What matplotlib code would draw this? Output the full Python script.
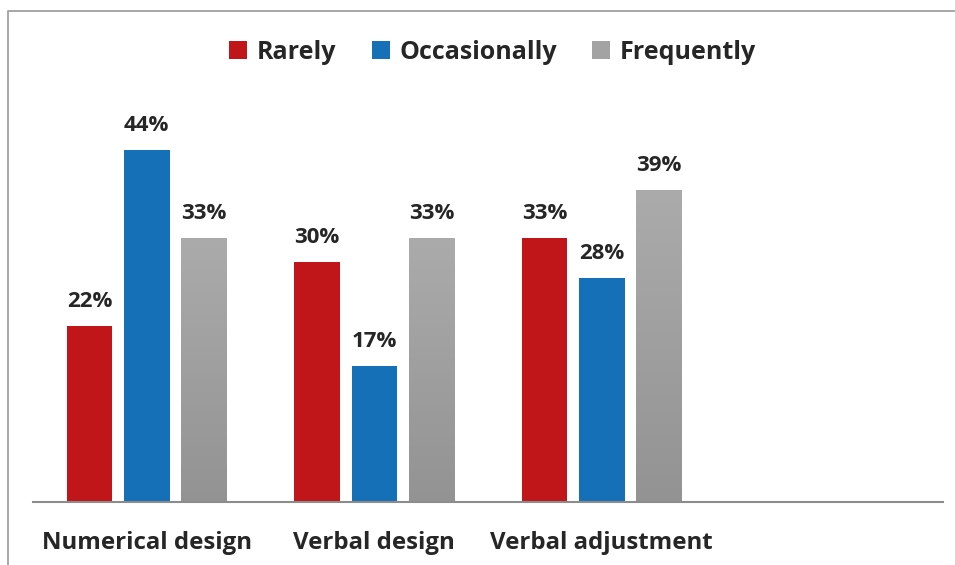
import matplotlib.pyplot as plt
import numpy as np
from matplotlib.lines import Line2D
from matplotlib.colors import LinearSegmentedColormap

plt.rcParams['font.family'] = ['Open Sans', 'DejaVu Sans']

categories = ["Numerical design", "Verbal design", "Verbal adjustment", ""]
series = ["Rarely", "Occasionally", "Frequently"]
rarely = [22, 30, 33]
occasionally = [44, 17, 28]
frequently = [33, 33, 39]

colors = ["#c0161a", "#1570b8", "#a3a3a3"]
text_color = "#262626"

fig = plt.figure(figsize=(9.55, 5.65), dpi=100)
ax = fig.add_axes([0.0346, 0.1115, 0.9529, 0.708])

x = np.arange(len(categories))
width = 0.2
gap = 0.052
offsets = [-(width + gap), 0, width + gap]

gray_cmap = LinearSegmentedColormap.from_list("g", ["#939393", "#ababab"])

for vals, off, col, name in zip([rarely, occasionally, frequently], offsets, colors, series):
    xs = x[:len(vals)] + off
    bars = ax.bar(xs, vals, width=width, color=col, label=name, zorder=2)
    if name == "Frequently":
        # gray bars get a soft vertical gradient
        grad = np.linspace(0, 1, 256).reshape(-1, 1)
        for b in bars:
            b.set_facecolor("none")
            im = ax.imshow(grad, cmap=gray_cmap, aspect="auto", origin="lower",
                           extent=[b.get_x(), b.get_x() + b.get_width(), 0, b.get_height()],
                           zorder=2)
            im.set_clip_path(b)
    for xi, v in zip(xs, vals):
        ax.text(xi, v + 1.8, f"{v}%", ha="center", va="bottom", fontsize=16,
                fontweight="bold", color=text_color)

ax.set_xlim(-0.5, len(categories) - 0.5)
ax.set_ylim(0, 50)
ax.set_xticks(x)
ax.set_xticklabels(categories, fontsize=17.3, fontweight="bold", color=text_color)
ax.tick_params(axis="x", length=0, pad=21)
ax.set_yticks([])
for s in ["top", "right", "left"]:
    ax.spines[s].set_visible(False)
ax.spines["bottom"].set_color("#8c8c8c")
ax.spines["bottom"].set_linewidth(1.5)

leg = fig.legend(loc="center", bbox_to_anchor=(0.516, 0.907), ncol=3, frameon=False,
                 prop={"size": 18, "weight": "bold"}, handlelength=0.72, handleheight=0.72,
                 handletextpad=0.4, columnspacing=1.4, labelcolor=text_color)
leg.legend_handles[2].set_facecolor(colors[2])

# outer frame along the top and left edges
fig.add_artist(Line2D([8 / 955, 8 / 955, 1.0], [0.0, 1 - 11 / 565, 1 - 11 / 565],
                      transform=fig.transFigure, color="#a0a0a0", linewidth=1.3))

fig.savefig("out.png", dpi=100)
